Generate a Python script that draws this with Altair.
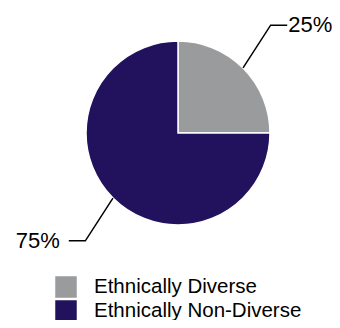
import math
import altair as alt
import pandas as pd

# ---- data ----
categories = ["Ethnically Diverse", "Ethnically Non-Diverse"]
values = [25, 75]
labels = ["25%", "75%"]
colors = ["#9a9b9d", "#22125e"]

# ---- layout parameters (pie units: radius = 1) ----
W, H = 324, 312
R_PX = 92
CX_PX, CY_PX = 170, 125
x_dom = [-CX_PX / R_PX, (W - CX_PX) / R_PX]
y_dom = [-(H - CY_PX) / R_PX, CY_PX / R_PX]
ELBOW_DX, ELBOW_DY, TAIL = 0.30, 0.465, 0.18

xs = alt.Scale(domain=x_dom, nice=False, zero=False)
ys = alt.Scale(domain=y_dom, nice=False, zero=False)

pie_df = pd.DataFrame({"category": categories, "value": values,
                       "order": list(range(len(categories)))})
pie_df["cx"] = 0.0
pie_df["cy"] = 0.0

# leader lines derived from slice angles
total = sum(values)
rows, text_rows = [], []
cum = 0
for cat, v, lab in zip(categories, values, labels):
    mid = (cum + v / 2) / total * 2 * math.pi
    cum += v
    sx = 1 if math.sin(mid) >= 0 else -1
    sy = 1 if math.cos(mid) >= 0 else -1
    ex, ey = math.sin(mid), math.cos(mid)
    bx, by = ex + sx * ELBOW_DX, ey + sy * ELBOW_DY
    tx = bx + sx * TAIL
    for i, (px, py) in enumerate([(ex, ey), (bx, by), (tx, by)]):
        rows.append({"category": cat, "i": i, "x": px, "y": py})
    text_rows.append({"label": lab, "x": tx, "y": by, "side": "right" if sx > 0 else "left"})
line_df = pd.DataFrame(rows)
text_df = pd.DataFrame(text_rows)

pie = alt.Chart(pie_df).mark_arc(radius=R_PX, stroke="white", strokeWidth=1.5).encode(
    theta=alt.Theta("value:Q", stack=True),
    order=alt.Order("order:O"),
    x=alt.X("cx:Q", scale=xs, axis=None),
    y=alt.Y("cy:Q", scale=ys, axis=None),
    color=alt.Color(
        "category:N",
        scale=alt.Scale(domain=categories, range=colors),
        sort=categories,
        legend=alt.Legend(
            title=None, orient="none", legendX=47, legendY=268,
            symbolType="square", symbolSize=462, symbolStrokeWidth=0,
            labelFontSize=20.5, labelFont="Liberation Sans", labelColor="#000000",
            labelOffset=17, labelLimit=0, rowPadding=2, padding=0, symbolOpacity=1,
        ),
    ),
)

lines = alt.Chart(line_df).mark_line(color="#000000", strokeWidth=1.5).encode(
    x=alt.X("x:Q", scale=xs, axis=None),
    y=alt.Y("y:Q", scale=ys, axis=None),
    detail="category:N",
    order="i:O",
)

text_r = alt.Chart(text_df).transform_filter(alt.datum.side == "right").mark_text(
    align="left", baseline="middle", dx=1, fontSize=22, font="Liberation Sans", color="#000000"
).encode(x=alt.X("x:Q", scale=xs, axis=None), y=alt.Y("y:Q", scale=ys, axis=None), text="label:N")

text_l = alt.Chart(text_df).transform_filter(alt.datum.side == "left").mark_text(
    align="right", baseline="middle", dx=-9, fontSize=22, font="Liberation Sans", color="#000000"
).encode(x=alt.X("x:Q", scale=xs, axis=None), y=alt.Y("y:Q", scale=ys, axis=None), text="label:N")

chart = alt.layer(pie, lines, text_r, text_l).properties(
    width=W, height=H, autosize=alt.AutoSizeParams(type="none"), padding=0,
).configure_view(stroke=None)

chart.save("out.html", embed_options={"renderer": "svg", "actions": False})
